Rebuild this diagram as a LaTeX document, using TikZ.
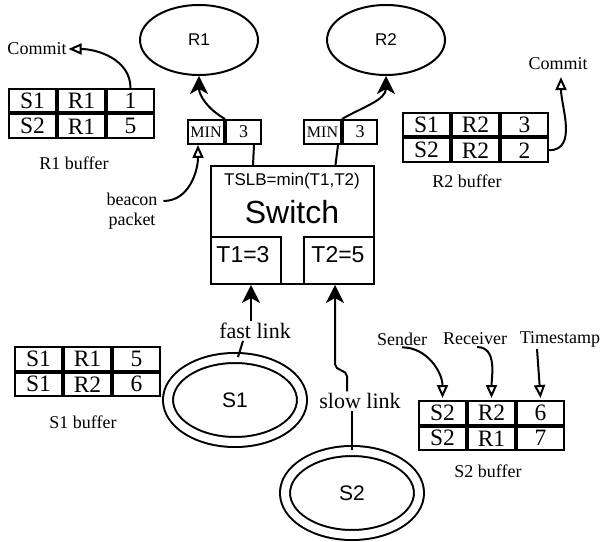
\documentclass[tikz,border=0pt]{standalone}
\usepackage{fontspec}
\setmainfont{Liberation Serif}
\setsansfont{Liberation Sans}
\usetikzlibrary{arrows.meta,shapes.geometric}

\newcommand\fsz[1]{\fontsize{#1}{#1}\selectfont}

\tikzset{
  cell/.style={draw, minimum width=47pt, minimum height=23.5pt, inner sep=0pt,
    anchor=north west, font=\fsz{23.5}},
  mincell/.style={draw, minimum height=24pt, inner sep=0pt, anchor=north west},
  caption/.style={font=\fsz{18}, inner sep=1pt},
  linklabel/.style={font=\fsz{22}, inner sep=1pt},
  host/.style={ellipse, draw, minimum width=118pt, minimum height=70pt,
    font=\sffamily\fsz{17}},
  source/.style={ellipse, draw, double, double distance=8pt, minimum width=134pt,
    minimum height=84pt, font=\sffamily\fsz{21}},
  box/.style={draw, inner sep=0pt},
  link/.style={line width=2pt},
  bigarrow/.style={-{Stealth[length=18pt,width=18pt,inset=5pt]}},
  openarrow/.style={-{Triangle[open,length=13pt,width=11pt]}},
}

% two-row buffer table: name, left, top, six entries
\newcommand\buftab[9]{%
  \node[cell] (#1-11) at (#2,#3) {#4};
  \node[cell] (#1-12) at (#1-11.north east) {#5};
  \node[cell] (#1-13) at (#1-12.north east) {#6};
  \node[cell] (#1-21) at (#1-11.south west) {#7};
  \node[cell] (#1-22) at (#1-21.north east) {#8};
  \node[cell] (#1-23) at (#1-22.north east) {#9};
}

\begin{document}
\begin{tikzpicture}[x=1pt, y=1pt, line width=2pt]
\useasboundingbox (0,0) rectangle (604,541);

% receivers
\node[host] (r1) at (199,501) {R1};
\node[host] (r2) at (386,501) {R2};

% senders
\node[source] (s1) at (235,141) {S1};
\node[source] (s2) at (352,48) {S2};

% switch
\node[box, minimum width=163pt, minimum height=118pt] (sw) at (292.5,316) {};
\node[box, minimum width=70pt, minimum height=47pt, anchor=south west] (t1) at (sw.south west) {};
\node[box, minimum width=70pt, minimum height=47pt, anchor=south east] (t2) at (sw.south east) {};
\node[font=\sffamily\fsz{23}, inner sep=0pt] (t1txt) at (243,286) {T1=3};
\node[font=\sffamily\fsz{23}, inner sep=0pt] (t2txt) at (338,286) {T2=5};
\node[font=\sffamily\fsz{17}, inner sep=0pt] (tslb) at (292,360) {TSLB=min(T1,T2)};
\node[font=\sffamily\fsz{32}, inner sep=0pt] (swtxt) at (292,329) {Switch};

% beacon packets
\node[mincell, minimum width=36pt, font=\fsz{16}] (m1n) at (187,422) {MIN};
\node[mincell, minimum width=35pt, font=\fsz{18}] (m1v) at (m1n.north east) {3};
\node[mincell, minimum width=37pt, font=\fsz{16}] (m2n) at (303,422) {MIN};
\node[mincell, minimum width=34pt, font=\fsz{18}] (m2v) at (m2n.north east) {3};

% buffers
\buftab{r1b}{8}{453}{S1}{R1}{1}{S2}{R1}{5}
\buftab{r2b}{402}{429}{S1}{R2}{3}{S2}{R2}{2}
\buftab{s1b}{14}{195}{S1}{R1}{5}{S1}{R2}{6}
\buftab{s2b}{418}{141}{S2}{R2}{6}{S2}{R1}{7}

\node[caption] (r1cap) at (74,378) {R1 buffer};
\node[caption] (r2cap) at (467,360) {R2 buffer};
\node[caption] (s1cap) at (83,119) {S1 buffer};
\node[caption] (s2cap) at (488,70) {S2 buffer};

% labels
\node[caption] (cm1) at (37,492) {Commit};
\node[caption] (cm2) at (558,477) {Commit};
\node[caption, align=center, font=\fontsize{18}{20}\selectfont] (bcn) at (132,330) {beacon\\packet};
\node[caption] (snd) at (402,202) {Sender};
\node[caption] (rcv) at (475,202) {Receiver};
\node[caption] (tms) at (560,202) {Timestamp};
\node[linklabel] (fast) at (255,210) {fast link};
\node[linklabel] (slow) at (360,140) {slow link};

% packets towards the receivers
\draw[link, bigarrow] (m1n.north east) to[out=150, in=-90] (r1.south);
\draw[link, bigarrow] (m2n.north east) to[out=30, in=-90] (r2.south);
\draw[link] ([xshift=10.5pt]m1v.south) -- ([xshift=-39.5pt]sw.north);
\draw[link] ([xshift=-4pt]m2n.south east) -- ([xshift=43pt]sw.north);

% beacon packet and commits
\draw[link, openarrow] ([xshift=4pt, yshift=10pt]bcn.east) to[out=0, in=-90] ([xshift=-8pt]m1n.south);
\draw[link, openarrow] (r1b-13.north) to[out=90, in=0] (cm1.east);
\draw[link, openarrow] (r2b-23.east) to[out=0, in=-90] ([xshift=3pt, yshift=-5pt]cm2.south);

% field names of a buffer entry
\draw[link, openarrow] (snd.south) to[out=0, in=90] ([yshift=2pt]s2b-11.north);
\draw[link, openarrow] ([xshift=2pt]rcv.south) to[out=0, in=90] ([yshift=2pt]s2b-12.north);
\draw[link, openarrow] ([xshift=-23pt]tms.south) -- ([yshift=2pt]s2b-13.north);

% links from the senders to the switch
\draw[link] ([xshift=3pt]s1.north) -- ([xshift=-12pt]fast.south);
\draw[link, bigarrow] ([xshift=-4pt]fast.north) -- ([xshift=5pt]t1.south);
\draw[link] (s2.north) -- (s2.north |- slow.south);
\draw[link, bigarrow] ([xshift=-13pt]slow.north) -- ++(0,15) to[out=90, in=-90] ++(-12,12)
  -- ([xshift=-4pt]t2.south);
\end{tikzpicture}
\end{document}
